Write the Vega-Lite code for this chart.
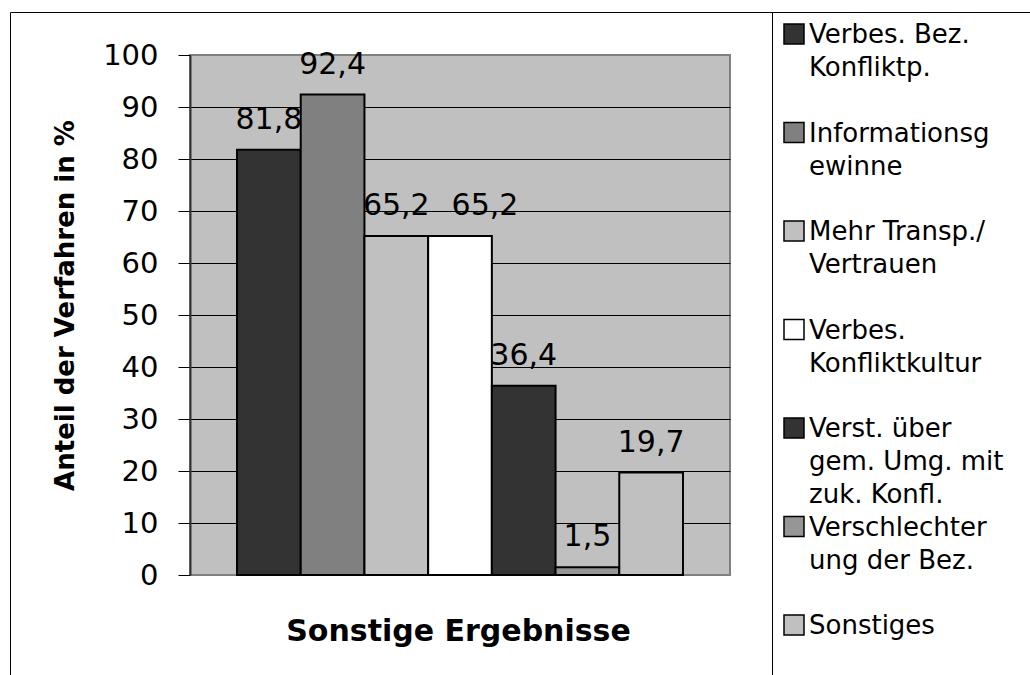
{
  "$schema": "https://vega.github.io/schema/vega-lite/v6.json",
  "autosize": {"type": "none"},
  "width": 540,
  "height": 520,
  "padding": {"left": 190, "top": 55, "right": 300, "bottom": 100},
  "background": "white",
  "config": {
    "locale": {"number": {"decimal": ",", "thousands": ".", "grouping": [3], "currency": ["", " €"]}},
    "view": {"fill": "#c0c0c0", "stroke": "#808080", "strokeWidth": 2},
    "font": "DejaVu Sans"
  },
  "data": {
    "values": [
      {"gruppe": "Sonstige Ergebnisse", "kategorie": "Verbes. Bez. Konfliktp.", "wert": 81.8},
      {"gruppe": "Sonstige Ergebnisse", "kategorie": "Informationsgewinne", "wert": 92.4},
      {"gruppe": "Sonstige Ergebnisse", "kategorie": "Mehr Transp./Vertrauen", "wert": 65.2},
      {"gruppe": "Sonstige Ergebnisse", "kategorie": "Verbes. Konfliktkultur", "wert": 65.2},
      {"gruppe": "Sonstige Ergebnisse", "kategorie": "Verst. über gem. Umg. mit zuk. Konfl.", "wert": 36.4},
      {"gruppe": "Sonstige Ergebnisse", "kategorie": "Verschlechterung der Bez.", "wert": 1.5},
      {"gruppe": "Sonstige Ergebnisse", "kategorie": "Sonstiges", "wert": 19.7}
    ]
  },
  "layer": [
    {
      "mark": {"type": "bar", "stroke": "black", "strokeWidth": 2},
      "encoding": {
        "x": {
          "field": "kategorie", "type": "nominal", "sort": null,
          "scale": {"paddingInner": 0, "paddingOuter": 0.738},
          "axis": {
            "labels": false, "ticks": false, "domain": false, "grid": false,
            "title": "Sonstige Ergebnisse", "titleFont": "DejaVu Sans", "titleFontWeight": "bold",
            "titleFontSize": 30, "titleColor": "black", "titlePadding": 41, "titleX": 268
          }
        },
        "y": {
          "field": "wert", "type": "quantitative", "stack": null,
          "scale": {"domain": [0, 100], "nice": false},
          "axis": {
            "values": [0, 10, 20, 30, 40, 50, 60, 70, 80, 90, 100],
            "title": "Anteil der Verfahren in %",
            "titleFont": "DejaVu Sans", "titleFontSize": 26, "titleFontWeight": "bold", "titleColor": "black",
            "titleX": -117, "titleY": 250, "titleBaseline": "alphabetic", "titleAlign": "center", "titleAngle": -90,
            "labelFont": "DejaVu Sans", "labelFontSize": 29, "labelColor": "black", "labelPadding": 20,
            "tickSize": 12, "tickColor": "black", "tickWidth": 1,
            "domainColor": "#333333", "domainWidth": 2,
            "grid": true,
            "gridColor": {"condition": {"test": "datum.value == 100 || datum.value == 0", "value": "#808080"}, "value": "black"},
            "gridWidth": 1
          }
        },
        "fill": {
          "field": "kategorie", "type": "nominal",
          "scale": {
            "domain": ["Verbes. Bez. Konfliktp.", "Informationsgewinne", "Mehr Transp./Vertrauen", "Verbes. Konfliktkultur", "Verst. über gem. Umg. mit zuk. Konfl.", "Verschlechterung der Bez.", "Sonstiges"],
            "range": ["#333333", "#808080", "#c0c0c0", "#ffffff", "#333333", "#969696", "#c0c0c0"]
          },
          "legend": {
            "orient": "none", "legendX": 582, "legendY": -43,
            "title": null, "padding": 9,
            "symbolType": "square", "symbolSize": 400, "symbolStrokeColor": "black", "symbolStrokeWidth": 1.5, "symbolOpacity": 1,
            "labelFont": "DejaVu Sans", "labelFontSize": 26, "labelColor": "black", "labelOffset": 2, "labelLimit": 400,
            "labelBaseline": "alphabetic", "rowPadding": 5.5,
            "labelExpr": "datum.label == 'Verbes. Bez. Konfliktp.' ? ['Verbes. Bez.', 'Konfliktp.', ' '] : datum.label == 'Informationsgewinne' ? ['Informationsg', 'ewinne', ' '] : datum.label == 'Mehr Transp./Vertrauen' ? ['Mehr Transp./', 'Vertrauen', ' '] : datum.label == 'Verbes. Konfliktkultur' ? ['Verbes.', 'Konfliktkultur', ' '] : datum.label == 'Verst. über gem. Umg. mit zuk. Konfl.' ? ['Verst. über', 'gem. Umg. mit', 'zuk. Konfl.'] : datum.label == 'Verschlechterung der Bez.' ? ['Verschlechter', 'ung der Bez.', ' '] : [datum.label, ' ', ' ']",
            "encoding": {"labels": {"dy": {"value": 9}, "lineHeight": {"value": 33}}}
          }
        }
      }
    },
    {
      "transform": [{"filter": "datum.kategorie != 'Verbes. Konfliktkultur'"}],
      "mark": {"type": "text", "baseline": "alphabetic", "align": "center", "dy": -21, "font": "DejaVu Sans", "color": "black"},
      "encoding": {
        "x": {"field": "kategorie", "type": "nominal", "sort": null},
        "y": {"field": "wert", "type": "quantitative"},
        "text": {"field": "wert", "type": "quantitative", "format": ".1f"},
        "opacity": {
          "field": "gruppe", "type": "ordinal",
          "scale": {"range": [1, 1]},
          "legend": {
            "orient": "none", "legendX": -180, "legendY": -43,
            "title": null, "padding": 700, "strokeColor": "black",
            "symbolOpacity": 0, "labelOpacity": 0, "symbolStrokeWidth": 0, "labelExpr": "''"
          }
        },
        "size": {
          "field": "wert", "type": "quantitative",
          "scale": {"range": [30, 30]},
          "legend": {
            "orient": "none", "legendX": 582, "legendY": -43,
            "title": null, "padding": 700, "strokeColor": "black",
            "symbolOpacity": 0, "labelOpacity": 0, "symbolStrokeWidth": 0, "labelExpr": "''"
          }
        }
      }
    },
    {
      "transform": [{"filter": "datum.kategorie == 'Verbes. Konfliktkultur'"}],
      "mark": {"type": "text", "baseline": "alphabetic", "align": "center", "dy": -21, "dx": 25, "fontSize": 30, "font": "DejaVu Sans", "color": "black"},
      "encoding": {
        "x": {"field": "kategorie", "type": "nominal", "sort": null},
        "y": {"field": "wert", "type": "quantitative"},
        "text": {"field": "wert", "type": "quantitative", "format": ".1f"}
      }
    }
  ]
}
